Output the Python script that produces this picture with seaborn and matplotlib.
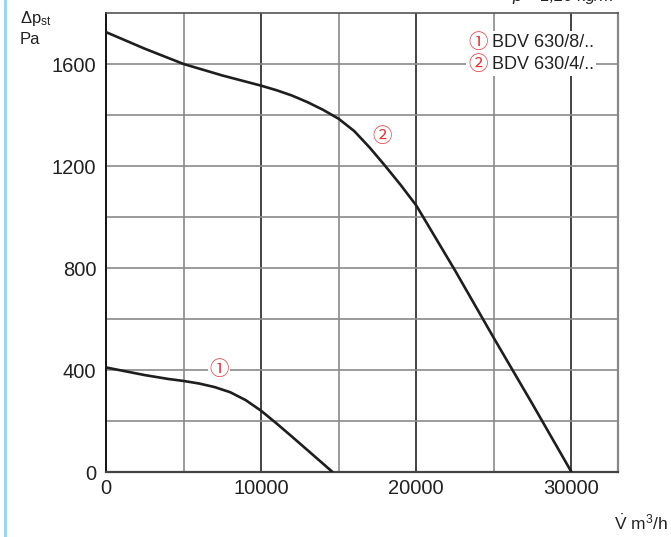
import numpy as np
import pandas as pd
import matplotlib
matplotlib.use('Agg')
import matplotlib.pyplot as plt
import seaborn as sns
from matplotlib.lines import Line2D

flow_1 = [0, 1000, 2500, 4000, 5000, 6000, 7000, 8000, 9000, 10000, 11000, 12000, 13000, 14000, 14600]
dp_1 = [410, 398, 380, 365, 357, 347, 333, 313, 282, 240, 190, 138, 85, 32, 0]

flow_2 = [0, 2500, 5000, 7500, 10000, 11000, 12000, 13000, 14000, 15000, 16000, 17000, 18000,
          19000, 20000, 22500, 25000, 27500, 30000]
dp_2 = [1725, 1660, 1600, 1555, 1515, 1497, 1476, 1450, 1420, 1385, 1337, 1272, 1200,
        1125, 1045, 790, 525, 265, 0]

x_ticks = [0, 10000, 20000, 30000]
y_ticks = [0, 400, 800, 1200, 1600]
labels = ['BDV 630/8/..', 'BDV 630/4/..']
marks = ['\u2460', '\u2461']

df1 = pd.DataFrame({'flow': flow_1, 'dp': dp_1})
df2 = pd.DataFrame({'flow': flow_2, 'dp': dp_2})

sns.set_style('white')
plt.rcParams['font.family'] = ['Liberation Sans', 'Noto Sans CJK JP', 'DejaVu Sans']
plt.rcParams['mathtext.fontset'] = 'custom'
plt.rcParams['mathtext.rm'] = 'Liberation Sans'
plt.rcParams['mathtext.it'] = 'Liberation Sans:italic'

fig = plt.figure(figsize=(6.71, 5.37), dpi=100)
ax = fig.add_axes([106 / 671, 65 / 537, 512 / 671, 459 / 537])

red = '#e8303a'
grid_gray = '#8a8a8a'

# grid
for v in range(5000, 33000, 5000):
    c = '#222222' if v % 10000 == 0 else grid_gray
    ax.axvline(v, color=c, lw=1.2, zorder=0)
for h in range(200, 1800, 200):
    ax.axhline(h, color=grid_gray, lw=1.2, zorder=0)

sns.lineplot(data=df1, x='flow', y='dp', color='#1e1e1e', lw=1.9, ax=ax, zorder=3)
sns.lineplot(data=df2, x='flow', y='dp', color='#1e1e1e', lw=1.9, ax=ax, zorder=3)

ax.set_xlim(0, 33000)
ax.set_ylim(0, 1800)
ax.set_xticks(x_ticks)
ax.set_yticks(y_ticks)
ax.set_xticklabels([str(v) for v in x_ticks], fontsize=14.5, color='#222222')
ax.set_yticklabels([str(v) for v in y_ticks], fontsize=14.5, color='#222222')
ax.tick_params(axis='both', direction='out', length=5, width=1, color='#333333')
ax.tick_params(axis='x', pad=0)
ax.tick_params(axis='y', pad=2)
ax.set_xlabel('')
ax.set_ylabel('')

ax.spines['left'].set_color('#111111')
ax.spines['left'].set_linewidth(1.4)
ax.spines['bottom'].set_color('#444444')
ax.spines['bottom'].set_linewidth(1.6)
ax.spines['top'].set_color('#555555')
ax.spines['top'].set_linewidth(1.2)
ax.spines['right'].set_color('#888888')
ax.spines['right'].set_linewidth(1.6)

# curve labels
ax.text(7300, 400, marks[0], color=red, fontsize=14, ha='center', va='center',
        bbox=dict(facecolor='white', edgecolor='none', pad=1), zorder=2)
ax.text(17800, 1315, marks[1], color=red, fontsize=14, ha='center', va='center', zorder=2)

# legend block
for i, (m, lab) in enumerate(zip(marks, labels)):
    yv = 1685 - i * 88
    ax.text(23350, yv, m, color=red, fontsize=14, ha='left', va='center', zorder=2,
            bbox=dict(facecolor='white', edgecolor='none', pad=2))
    ax.text(24850, yv, lab, color='#222222', fontsize=13, ha='left', va='center', zorder=2,
            bbox=dict(facecolor='white', edgecolor='none', pad=2))

# axis titles
fig.text(20 / 671, 1 - 18 / 537, '\u0394p$_{\\rm st}$', fontsize=12, va='center', ha='left',
         color='#222222')
fig.text(20 / 671, 1 - 40 / 537, 'Pa', fontsize=12, va='center', ha='left', color='#222222')
fig.text(668 / 671, 1 - 523 / 537, r'$\dot{\rm V}$ m$^3$/h', fontsize=12.5, va='center', ha='right',
         color='#222222')
fig.text(620 / 671, 1 + 4 / 537, '\u03c1 = 1,20 kg/m\u00b3', fontsize=12, va='center', ha='right',
         style='italic', color='#222222')

# light blue edge line
fig.add_artist(Line2D([5 / 671, 5 / 671], [0, 1], color='#8fd6f5', lw=2, transform=fig.transFigure))

fig.savefig('out.png', dpi=100)
